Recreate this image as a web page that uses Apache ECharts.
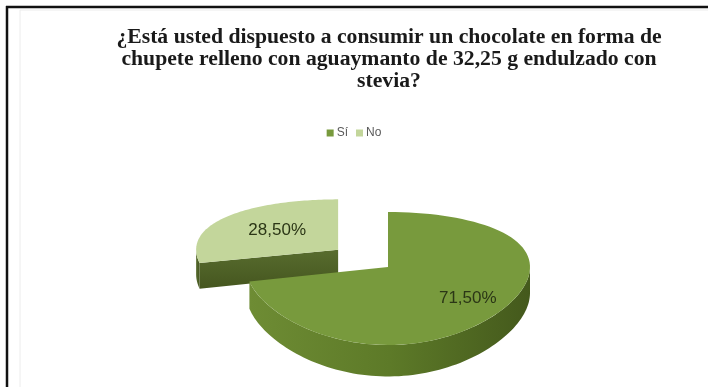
<!DOCTYPE html>
<html>
<head>
<meta charset="utf-8">
<script src="https://cdn.jsdelivr.net/npm/echarts@6/dist/echarts.min.js"></script>
<style>
  html, body { margin: 0; padding: 0; background: #ffffff; }
  #chart { width: 708px; height: 387px; }
</style>
</head>
<body>
<div id="chart"></div>
<script>
// Survey answers
const categories = ['Sí', 'No'];
const values = [71.5, 28.5];
const valueLabels = ['71,50%', '28,50%'];

// Face colours per answer
const topColors = ['#789A3D', '#C3D69B'];
const wallColors = [
  ['#6E8C34', '#5D7A28', '#44591C'],
  ['#586C2E', '#4E6128', '#45561F']
];

// Tilted pie geometry (screen pixels / pie-radius units)
const PIE = {
  cx: 388, cy: 267,        // pie centre on screen
  rx: 142, ry: 64.5,       // horizontal / vertical radius
  depth: 26,               // thickness of the disc
  persp: 0.173,            // near side drawn taller than far side
  explode: [0, 0.45],      // slice pulled out from the centre
  labelRadius: [0.72, 0.55]
};

const total = values.reduce((a, b) => a + b, 0);

function project(u, v, h) {
  const f = 1 / (1 - PIE.persp * v);
  return [PIE.cx + PIE.rx * u, PIE.cy + PIE.ry * v * f + h * PIE.depth * f];
}

function sliceRenderer(i) {
  return function (params, api) {
    const before = values.slice(0, i).reduce((a, b) => a + b, 0);
    const start = before / total * Math.PI * 2;
    const end = start + api.value(0) / total * Math.PI * 2;
    const mid = (start + end) / 2;
    const d = PIE.explode[i];
    const ox = d * Math.sin(mid), oy = -d * Math.cos(mid);
    const rim = (a, h) => project(ox + Math.sin(a), oy - Math.cos(a), h);
    const vertex = h => project(ox, oy, h);
    const children = [];
    const steps = 90;

    // outer wall, front half only
    const lo = Math.max(start, Math.PI / 2), hi = Math.min(end, Math.PI * 1.5);
    if (hi > lo) {
      const pts = [];
      for (let t = 0; t <= steps; t++) pts.push(rim(lo + (hi - lo) * t / steps, 0));
      for (let t = steps; t >= 0; t--) pts.push(rim(lo + (hi - lo) * t / steps, 1));
      children.push({
        type: 'polygon', shape: { points: pts },
        style: {
          fill: { type: 'linear', x: 0, y: 0, x2: 1, y2: 0, colorStops: [
            { offset: 0, color: wallColors[i][0] },
            { offset: 0.5, color: wallColors[i][1] },
            { offset: 1, color: wallColors[i][2] }] }
        }
      });
    }
    // cut faces that turn towards the viewer
    if (Math.sin(start) < -1e-6) {
      children.push({
        type: 'polygon',
        shape: { points: [vertex(0), rim(start, 0), rim(start, 1), vertex(1)] },
        style: {
          fill: { type: 'linear', x: 0, y: 0, x2: 0, y2: 1, colorStops: [
            { offset: 0, color: wallColors[i][0] },
            { offset: 1, color: wallColors[i][2] }] }
        }
      });
    }
    if (Math.sin(end) > 1e-6) {
      children.push({
        type: 'polygon',
        shape: { points: [vertex(0), rim(end, 0), rim(end, 1), vertex(1)] },
        style: { fill: wallColors[i][1] }
      });
    }
    // top face
    const topPts = [vertex(0)];
    for (let t = 0; t <= steps; t++) topPts.push(rim(start + (end - start) * t / steps, 0));
    children.push({
      type: 'polygon', shape: { points: topPts },
      style: { fill: topColors[i] }
    });
    // value label
    const lr = PIE.labelRadius[i];
    const lp = project(ox + lr * Math.sin(mid), oy - lr * Math.cos(mid), 0);
    children.push({
      type: 'text',
      style: {
        text: valueLabels[i], x: lp[0], y: lp[1],
        align: 'center', verticalAlign: 'middle',
        fill: '#2B3616', font: '17px "Liberation Sans", Arial, sans-serif'
      }
    });
    return { type: 'group', children: children };
  };
}

// the pulled-out slice sits behind the big one
const series = categories.map((name, i) => ({
  type: 'custom',
  name: name,
  coordinateSystem: 'none',
  silent: true,
  z: i === 0 ? 3 : 2,
  itemStyle: { color: topColors[i] },
  data: [[values[i]]],
  renderItem: sliceRenderer(i)
}));

const chart = echarts.init(document.getElementById('chart'), null, { renderer: 'canvas' });
chart.setOption({
  backgroundColor: '#ffffff',
  animation: false,
  title: {
    text: '¿Está usted dispuesto a consumir un chocolate en forma de\nchupete relleno con aguaymanto de 32,25 g endulzado con\nstevia?',
    left: 384, top: 21, textAlign: 'center',
    textStyle: {
      fontFamily: '"Liberation Serif", "Times New Roman", serif',
      fontWeight: 'bold', fontSize: 21.7, lineHeight: 22, color: '#1a1a1a'
    }
  },
  legend: {
    data: categories,
    left: 'center', top: 122,
    icon: 'rect', itemWidth: 7, itemHeight: 7, itemGap: 8,
    selectedMode: false,
    textStyle: { fontFamily: '"Liberation Sans", Arial, sans-serif', fontSize: 12, color: '#595959', padding: [0, 0, 0, -2] }
  },
  graphic: [
    { type: 'rect', shape: { x: 20, y: 10, width: 720, height: 400 }, style: { fill: 'none', stroke: '#ececec', lineWidth: 1 }, silent: true },
    { type: 'line', shape: { x1: 6, y1: 7, x2: 708, y2: 7 }, style: { stroke: '#111111', lineWidth: 2.5 }, silent: true },
    { type: 'line', shape: { x1: 7, y1: 6, x2: 7, y2: 387 }, style: { stroke: '#111111', lineWidth: 2.5 }, silent: true }
  ],
  series: series
});
</script>
</body>
</html>
